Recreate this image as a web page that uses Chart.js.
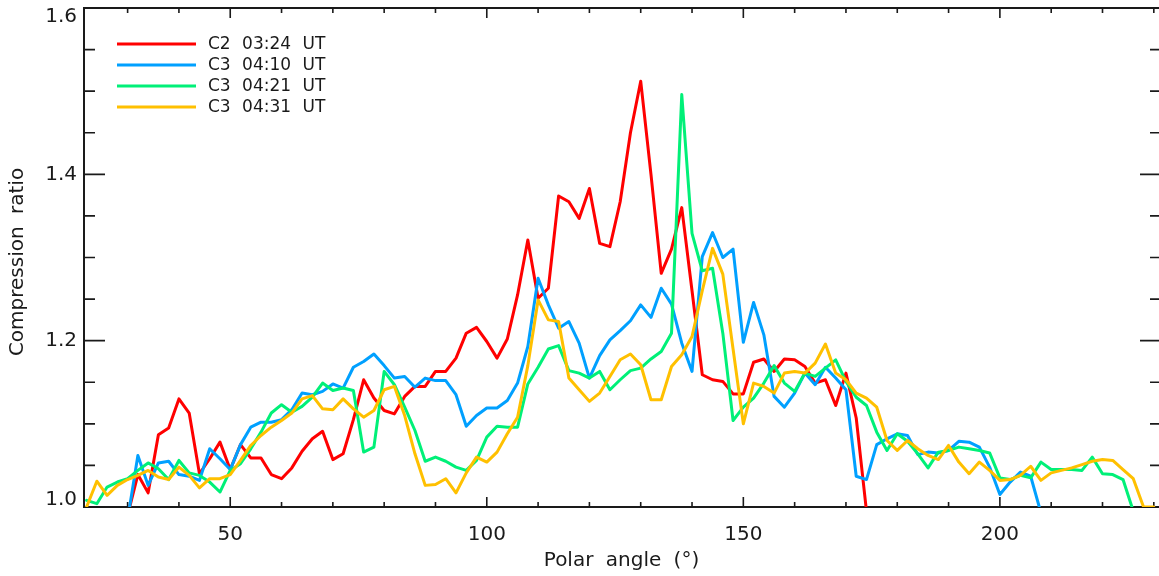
<!DOCTYPE html>
<html><head><meta charset="utf-8">
<script src="https://cdn.jsdelivr.net/npm/chart.js@4.4.1/dist/chart.umd.min.js"></script>
<style>
html,body{margin:0;padding:0;background:#fff;overflow:hidden;width:1159px;height:576px}
#wrap{position:relative;width:1162px;height:576px}
</style></head>
<body><div id="wrap"><canvas id="c" width="1162" height="576"></canvas></div>
<script>
// Polar angle grid (degrees)
const angles = [22,24,26,28,30,32,34,36,38,40,42,44,46,48,50,52,54,56,58,60,62,64,66,68,70,72,74,76,78,80,
  82,84,86,88,90,92,94,96,98,100,102,104,106,108,110,112,114,116,118,120,122,124,126,128,130,132,134,136,138,140,
  142,144,146,148,150,152,154,156,158,160,162,164,166,168,170,172,174,176,178,180,182,184,186,188,190,192,194,196,198,200,
  202,204,206,208,210,212,214,216,218,220,222,224,226,228,230];

// C2 03:24 UT
const c2_0324 = [null,null,null,null,0.99,1.039,1.017,1.087,1.095,1.130,1.113,1.040,1.058,1.078,
  1.045,1.075,1.059,1.059,1.039,1.034,1.047,1.067,1.082,1.091,
  1.057,1.064,1.105,1.153,1.131,1.116,1.112,1.133,1.145,1.145,
  1.163,1.163,1.179,1.209,1.216,1.199,1.179,1.202,1.255,1.321,
  1.251,1.263,1.374,1.367,1.347,1.383,1.317,1.313,1.367,1.450,
  1.512,1.400,1.281,1.310,1.360,1.260,1.159,1.153,1.151,1.136,
  1.136,1.174,1.178,1.163,1.178,1.177,1.169,1.149,1.153,1.122,
  1.161,1.107,0.995,null,null,null,null,null,null,null,
  null,null,null,null,null,null,null,null,null,null,
  null,null,null,null,null,null,null,null,null,null,null];

// C3 04:10 UT
const c3_0410 = [null,null,null,null,0.985,1.062,1.026,1.053,1.055,1.039,1.037,1.032,1.070,1.058,
  1.045,1.075,1.096,1.102,1.102,1.105,1.117,1.137,1.135,1.139,
  1.148,1.143,1.168,1.175,1.184,1.170,1.155,1.157,1.144,1.155,
  1.152,1.152,1.135,1.097,1.110,1.119,1.119,1.128,1.149,1.193,
  1.275,1.243,1.215,1.223,1.197,1.155,1.182,1.201,1.212,1.224,
  1.243,1.228,1.263,1.244,1.197,1.163,1.301,1.330,1.300,1.310,
  1.198,1.246,1.207,1.133,1.120,1.137,1.161,1.147,1.168,1.155,
  1.141,1.037,1.033,1.075,1.082,1.088,1.086,1.063,1.066,1.065,
  1.068,1.079,1.078,1.072,1.048,1.015,1.030,1.042,1.037,0.993,
  null,null,null,null,null,null,null,null,null,null,null];

// C3 04:21 UT
const c3_0421 = [1.008,1.004,1.024,1.030,1.034,1.044,1.053,1.046,1.033,1.056,
  1.041,1.038,1.030,1.018,1.044,1.052,1.070,1.090,1.113,1.123,
  1.114,1.121,1.132,1.149,1.140,1.143,1.140,1.066,1.072,1.163,
  1.147,1.120,1.092,1.055,1.060,1.055,1.048,1.044,1.056,1.084,
  1.097,1.096,1.096,1.148,1.168,1.190,1.194,1.164,1.161,1.155,
  1.163,1.141,1.153,1.164,1.167,1.178,1.187,1.209,1.496,1.329,
  1.284,1.287,1.209,1.104,1.120,1.131,1.149,1.170,1.149,1.139,
  1.161,1.157,1.167,1.177,1.151,1.132,1.122,1.090,1.068,1.088,
  1.079,1.064,1.047,1.066,1.068,1.072,1.070,1.068,1.065,1.035,
  1.033,1.038,1.035,1.054,1.045,1.045,1.045,1.044,1.060,1.040,
  1.039,1.033,0.995,null,null];

// C3 04:31 UT
const c3_0431 = [1.000,1.031,1.014,1.026,1.033,1.038,1.044,1.036,1.033,1.048,
  1.038,1.023,1.034,1.034,1.039,1.056,1.074,1.086,1.096,1.104,
  1.113,1.130,1.134,1.118,1.117,1.130,1.118,1.108,1.116,1.141,
  1.145,1.110,1.064,1.026,1.027,1.034,1.017,1.041,1.060,1.054,
  1.066,1.088,1.108,1.170,1.249,1.225,1.223,1.155,1.141,1.127,
  1.137,1.157,1.177,1.184,1.171,1.129,1.129,1.169,1.183,1.205,
  1.260,1.311,1.280,1.190,1.100,1.149,1.145,1.137,1.161,1.163,
  1.161,1.173,1.196,1.161,1.153,1.137,1.131,1.120,1.080,1.068,
  1.080,1.070,1.062,1.057,1.074,1.054,1.040,1.054,1.044,1.032,
  1.033,1.038,1.049,1.032,1.041,1.044,1.047,1.051,1.055,1.057,
  1.056,1.045,1.034,1.000,1.000];

const seriesLabels = ['C2 03:24 UT','C3 04:10 UT','C3 04:21 UT','C3 04:31 UT'];
const seriesValues = [c2_0324, c3_0410, c3_0421, c3_0431];
const seriesColors = ['#ff0000','#00a0ff','#00f078','#ffc000'];

const xMajorTicks = [50,100,150,200];
const xMinorTicks = [30,40,60,70,80,90,110,120,130,140,160,170,180,190,210,220,230];
const yMajorTicks = [1.0,1.2,1.4,1.6];
const yMinorTicks = [1.05,1.10,1.15,1.25,1.30,1.35,1.45,1.50,1.55];
const xTitle = 'Polar angle (°)';
const yTitle = 'Compression ratio';

const ink = '#1a1a1a';

const framePlugin = {
  id: 'frame',
  beforeDatasetsDraw(chart) {
    const {ctx, chartArea: a, scales: {x, y}} = chart;
    ctx.save();
    ctx.strokeStyle = ink;
    ctx.lineWidth = 2;
    ctx.beginPath();
    ctx.moveTo(a.left, a.top); ctx.lineTo(a.right, a.top);
    ctx.lineTo(a.right, a.bottom); ctx.lineTo(a.left, a.bottom); ctx.closePath();
    ctx.stroke();
    ctx.lineWidth = 1.6;
    ctx.beginPath();
    const xt = (v, len) => {
      const px = x.getPixelForValue(v);
      ctx.moveTo(px, a.bottom); ctx.lineTo(px, a.bottom - len);
      ctx.moveTo(px, a.top); ctx.lineTo(px, a.top + len);
    };
    const yt = (v, len) => {
      const py = y.getPixelForValue(v);
      ctx.moveTo(a.left, py); ctx.lineTo(a.left + len, py);
      ctx.moveTo(a.right, py); ctx.lineTo(a.right - len, py);
    };
    xMajorTicks.forEach(v => xt(v, 10));
    xMinorTicks.forEach(v => xt(v, 5));
    yMajorTicks.forEach(v => yt(v, 21));
    yMinorTicks.forEach(v => yt(v, 11));
    ctx.stroke();

    // tick labels
    ctx.fillStyle = ink;
    ctx.font = '20px "DejaVu Sans"';
    ctx.textAlign = 'center';
    ctx.textBaseline = 'alphabetic';
    xMajorTicks.forEach(v => ctx.fillText(String(v), x.getPixelForValue(v), 539.5));
    ctx.textAlign = 'right';
    ctx.textBaseline = 'middle';
    yMajorTicks.forEach(v => {
      let py = y.getPixelForValue(v);
      py = Math.min(Math.max(py, a.top + 9), a.bottom - 7);
      ctx.fillText(v.toFixed(1), a.left - 7, py);
    });

    // axis titles
    ctx.font = '20px "DejaVu Sans"';
    try { ctx.wordSpacing = '6px'; } catch (e) {}
    ctx.textAlign = 'center';
    ctx.textBaseline = 'alphabetic';
    ctx.fillText(xTitle, (a.left + a.right) / 2 - 1, 566);
    ctx.save();
    ctx.translate(23, 262);
    ctx.rotate(-Math.PI / 2);
    ctx.fillText(yTitle, 0, 0);
    ctx.restore();
    ctx.restore();
  },
  afterDraw(chart) {
    const {ctx, chartArea: a} = chart;
    ctx.save();
    ctx.font = '17px "DejaVu Sans"';
    try { ctx.wordSpacing = '6px'; } catch (e) {}
    ctx.textAlign = 'left';
    ctx.textBaseline = 'middle';
    seriesLabels.forEach((lab, i) => {
      const yy = a.top + 36 + i * 21;
      ctx.strokeStyle = seriesColors[i];
      ctx.lineWidth = 3;
      ctx.beginPath();
      ctx.moveTo(117, yy); ctx.lineTo(196, yy);
      ctx.stroke();
      ctx.fillStyle = ink;
      ctx.fillText(lab, 208, yy + 1);
    });
    ctx.restore();
  }
};

const datasets = seriesValues.map((vals, i) => ({
  label: seriesLabels[i],
  data: angles.map((a, k) => ({x: a, y: vals[k]})),
  borderColor: seriesColors[i],
  backgroundColor: seriesColors[i],
  borderWidth: 3,
  pointRadius: 0,
  tension: 0,
  fill: false,
  spanGaps: false,
  clip: 0,
  order: seriesValues.length - i
}));

new Chart(document.getElementById('c'), {
  type: 'line',
  data: { datasets },
  options: {
    responsive: false,
    animation: false,
    devicePixelRatio: 1,
    layout: { padding: { left: 84, top: 8, right: 1, bottom: 69 } },
    scales: {
      x: { type: 'linear', min: 21.5, max: 231.4, display: false },
      y: { type: 'linear', min: 1.0, max: 1.6, display: false }
    },
    plugins: { legend: { display: false }, tooltip: { enabled: false } },
    elements: { line: { borderJoinStyle: 'round', borderCapStyle: 'round' } }
  },
  plugins: [framePlugin]
});
</script>
</body></html>
